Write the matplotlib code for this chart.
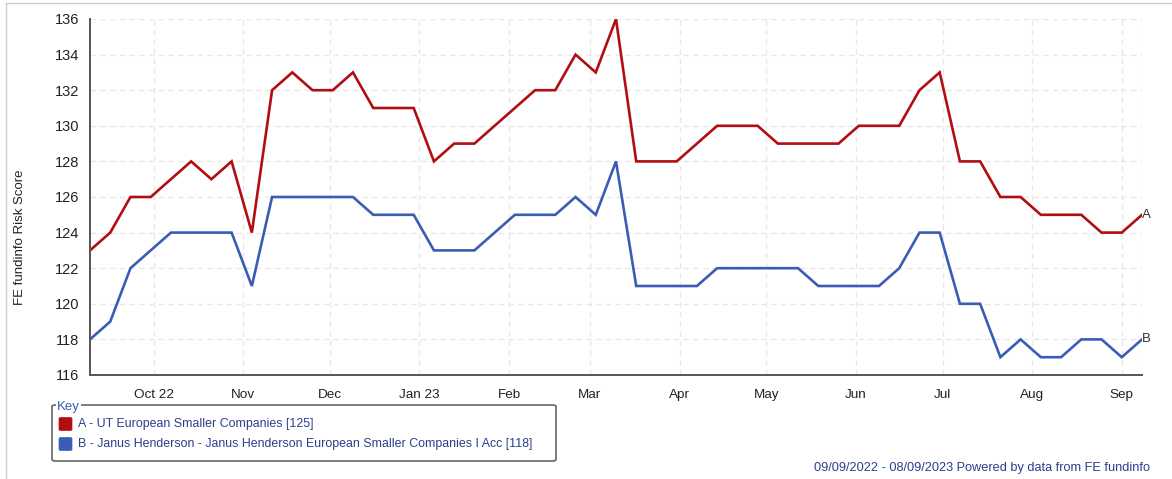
import numpy as np
import pandas as pd
import matplotlib
matplotlib.use('Agg')
import matplotlib.pyplot as plt
from matplotlib.patches import FancyBboxPatch
from matplotlib.lines import Line2D

plt.rcParams['font.family'] = ['Liberation Sans', 'DejaVu Sans']

# weekly risk scores, 09/09/2022 - 08/09/2023
dates = pd.date_range('2022-09-09', periods=53, freq='7D')
fund_a = [123, 124, 126, 126, 127, 128, 127, 128, 124, 132, 133, 132, 132, 133,
          131, 131, 131, 128, 129, 129, 130, 131, 132, 132, 134, 133, 136, 128,
          128, 128, 129, 130, 130, 130, 129, 129, 129, 129, 130, 130, 130, 132,
          133, 128, 128, 126, 126, 125, 125, 125, 124, 124, 125]
fund_b = [118, 119, 122, 123, 124, 124, 124, 124, 121, 126, 126, 126, 126, 126,
          125, 125, 125, 123, 123, 123, 124, 125, 125, 125, 126, 125, 128, 121,
          121, 121, 121, 122, 122, 122, 122, 122, 121, 121, 121, 121, 122, 124,
          124, 120, 120, 117, 118, 117, 117, 118, 118, 117, 118]
legend_labels = ['A - UT European Smaller Companies [125]',
                 'B - Janus Henderson - Janus Henderson European Smaller Companies I Acc [118]']
month_ticks = ['2022-10-01', '2022-11-01', '2022-12-01', '2023-01-01', '2023-02-01',
               '2023-03-01', '2023-04-01', '2023-05-01', '2023-06-01', '2023-07-01',
               '2023-08-01', '2023-09-01']
month_labels = ['Oct 22', 'Nov', 'Dec', 'Jan 23', 'Feb', 'Mar', 'Apr', 'May',
                'Jun', 'Jul', 'Aug', 'Sep']
yticks = [116, 118, 120, 122, 124, 126, 128, 130, 132, 134, 136]

red = '#b20e12'
blue = '#3a5db4'
navy = '#2a3f8a'

W, H = 1172, 479
fig = plt.figure(figsize=(W/100, H/100), dpi=100)

def px(x, y):
    return (x/W, 1 - y/H)

ax = fig.add_axes([90/W, 1-375/H, (1142-90)/W, (375-19)/H])
ax.plot(dates, fund_a, color=red, lw=1.9, solid_joinstyle='miter')
ax.plot(dates, fund_b, color=blue, lw=1.9, solid_joinstyle='miter')

ax.set_xlim(dates[0], dates[-1])
ax.set_ylim(116, 136)
ax.set_yticks(yticks)
ax.set_xticks(pd.to_datetime(month_ticks))
ax.set_xticklabels(month_labels)
ax.tick_params(axis='both', length=0, colors='#222222')
ax.tick_params(axis='y', pad=8, labelsize=10.5)
ax.tick_params(axis='x', pad=10, labelsize=9.7)
ax.grid(True, ls=(0, (4, 3)), color='#e8e8e8', lw=1)
ax.set_axisbelow(True)
for s in ['top', 'right']:
    ax.spines[s].set_visible(False)
for s in ['left', 'bottom']:
    ax.spines[s].set_color('#555555')
    ax.spines[s].set_linewidth(1.4)
# dashed right edge
ax.axvline(dates[-1], ls=(0, (4, 3)), color='#e8e8e8', lw=1, zorder=0)

lx, ly = px(20, 237)
fig.text(lx, ly, 'FE fundinfo Risk Score', fontsize=9.5, color='#222222',
         rotation=90, va='center', ha='center')

ax.annotate('A', (dates[-1], fund_a[-1]), xytext=(0, 0), textcoords='offset points',
            fontsize=9.5, color='#333333', va='center', ha='left', annotation_clip=False)
ax.annotate('B', (dates[-1], fund_b[-1]), xytext=(0, 0), textcoords='offset points',
            fontsize=9.5, color='#333333', va='center', ha='left', annotation_clip=False)

# outer frame lines
fig.add_artist(Line2D([6/W, 6/W], [0, 1-3/H], color='#cccccc', lw=1))
fig.add_artist(Line2D([6/W, 1], [1-3/H, 1-3/H], color='#cccccc', lw=1))

# key box
x0, y0 = px(52, 461)
x1, y1 = px(556, 405)
fig.add_artist(FancyBboxPatch((x0, y0), x1-x0, y1-y0, boxstyle='round,pad=0,rounding_size=0.003',
                              fc='white', ec='#666666', lw=1.2))
kx, ky = px(57, 407)
fig.text(kx, ky, 'Key', fontsize=9.5, color=blue, va='center', ha='left',
         bbox=dict(fc='white', ec='none', pad=0.5))
for col, lab, yy in zip([red, blue], legend_labels, [424, 444]):
    sx, sy = px(59, yy + 6.5)
    fig.add_artist(FancyBboxPatch((sx, sy), 13/W, 13/H,
                                  boxstyle='round,pad=0,rounding_size=0.002',
                                  fc=col, ec=col, lw=0.5))
    tx, ty = px(78, yy)
    fig.text(tx, ty, lab, fontsize=8.9, color=navy, va='center', ha='left')

bx, by = px(1150, 468)
fig.text(bx, by, '09/09/2022 - 08/09/2023 Powered by data from FE fundinfo',
         fontsize=9.2, color=navy, va='center', ha='right')

fig.savefig('out.png', dpi=100)
